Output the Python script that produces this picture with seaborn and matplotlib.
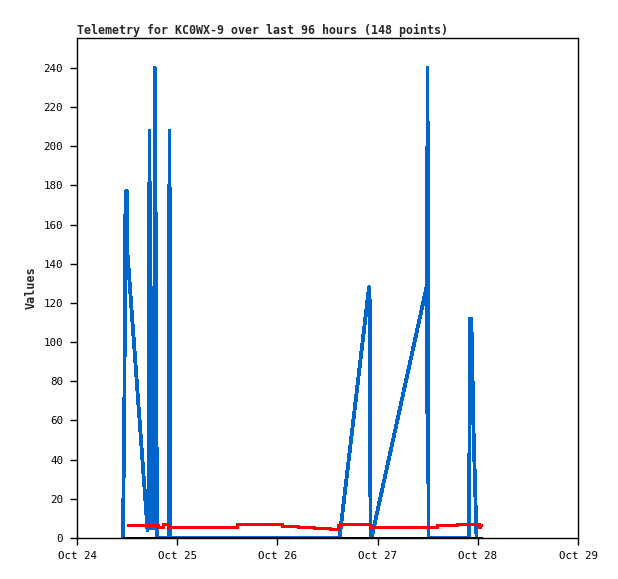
import pandas as pd
import numpy as np
import matplotlib
matplotlib.use("Agg")
import matplotlib.pyplot as plt
import matplotlib.dates as mdates
import seaborn as sns

# hours since Oct 24 00:00
start = pd.Timestamp("2023-10-24 00:00")

blue_hours = [11.02, 11.09, 11.33, 11.62, 11.98, 12.10, 12.34, 16.89, 17.13, 17.37,
              17.54, 17.72, 17.91, 18.15, 18.39, 18.68, 18.92, 19.16, 21.92, 22.04,
              22.16, 22.32, 62.87, 69.94, 70.13, 70.30, 70.54, 83.71, 83.83, 83.95,
              84.19, 93.89, 94.13, 94.37, 94.56, 94.73, 94.85, 95.09, 95.33, 95.69]
blue_vals = [0, 16, 64, 177, 177, 145, 138, 4, 12, 208,
             5, 128, 8, 32, 5, 240, 121, 0, 0, 104,
             208, 0, 0, 128, 120, 0, 0, 128, 64, 240,
             0, 0, 112, 112, 103, 84, 65, 46, 28, 0]

red_hours = [12.10, 19.40, 20.60, 21.80, 38.32, 49.10, 52.93, 56.76, 60.60, 62.63,
             63.23, 70.18, 86.23, 91.02, 93.65, 96.17, 96.53, 96.65]
red_vals = [6.6, 5.8, 7.0, 5.8, 7.0, 6.3, 5.8, 5.3, 4.6, 6.6,
            7.0, 5.8, 6.5, 7.0, 7.3, 5.8, 6.6, 6.6]

black_hours = [11.26, 96.65]
black_vals = [0, 0]

def to_time(hours):
    return start + pd.to_timedelta(hours, unit="h")

blue = pd.DataFrame({"time": to_time(blue_hours), "value": blue_vals})
red = pd.DataFrame({"time": to_time(red_hours), "value": red_vals})
black = pd.DataFrame({"time": to_time(black_hours), "value": black_vals})

sns.set_style("ticks")
plt.rcParams["font.family"] = ["DejaVu Sans Mono"]

fig = plt.figure(figsize=(6.18, 5.79), dpi=100)
ax = fig.add_axes([0.1246, 0.0708, 0.8107, 0.8636])

sns.lineplot(data=blue, x="time", y="value", ax=ax, color="#0066CC", linewidth=2.0,
             sort=False, antialiased=False)
sns.lineplot(data=red, x="time", y="value", ax=ax, color="#FF0000", linewidth=2.0,
             drawstyle="steps-post", sort=False, antialiased=False)
sns.lineplot(data=black, x="time", y="value", ax=ax, color="black", linewidth=2.0,
             sort=False, antialiased=False)

ax.set_xlim(start, start + pd.Timedelta(days=5))
ax.set_ylim(0, 255.3)
ax.set_yticks(range(0, 241, 20))
ax.xaxis.set_major_locator(mdates.DayLocator())
ax.xaxis.set_major_formatter(mdates.DateFormatter("%b %d"))

for s in ax.spines.values():
    s.set_visible(True)
    s.set_color("black")
    s.set_linewidth(1)

ax.tick_params(axis="both", direction="out", length=5, width=1, labelsize=7.8, colors="black")
ax.tick_params(axis="y", pad=5)
ax.tick_params(axis="x", pad=4)

ax.set_xlabel("")
ax.set_ylabel("Values", fontsize=8.5, fontweight="bold", labelpad=4)
ax.set_title("Telemetry for KC0WX-9 over last 96 hours (148 points)",
             loc="left", fontsize=8.4, fontweight="bold", pad=3)

fig.savefig("out.png", dpi=100)
